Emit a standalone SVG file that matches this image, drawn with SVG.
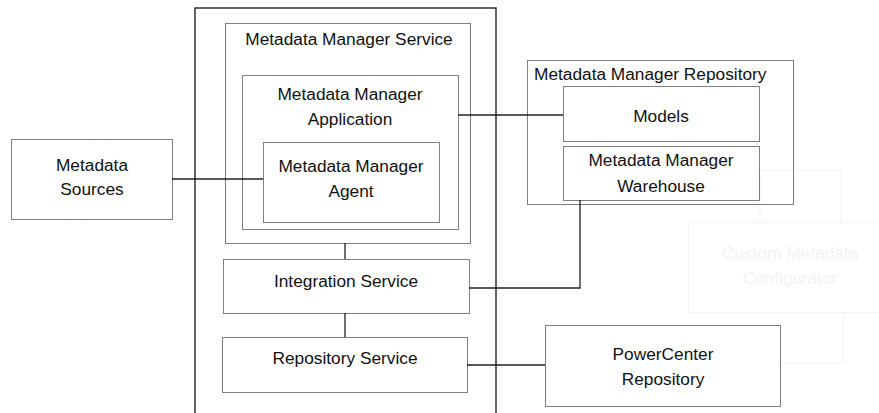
<svg xmlns="http://www.w3.org/2000/svg" width="879" height="413" viewBox="0 0 879 413">
<style>
.box{fill:none;stroke:#000;stroke-width:1;stroke-dasharray:1 1}
.ghost{fill:none;stroke:#f3f3f3;stroke-width:1}
.frame{fill:none;stroke:#111;stroke-width:1.3}
.line{fill:none;stroke:#222;stroke-width:1.3}
text{font-family:"Liberation Sans",Arial,sans-serif;font-size:17.3px;fill:#111;text-anchor:middle}
.gt{fill:#f3f3f3}
.lt{text-anchor:start}
</style>
<rect width="879" height="413" fill="#fff"/>
<g id="ghost-configurator">
<polyline class="ghost" points="760,222 760,170 841,170 841,222"/>
<rect class="ghost" x="688.5" y="222.5" width="200" height="90"/>
<polyline class="ghost" points="778,363 843,363 843,313"/>
<text class="gt" x="790" y="259">Custom Metadata</text>
<text class="gt" x="790" y="284">Configurator</text>
</g>
<g id="connectors">
<line class="line" x1="172" y1="179" x2="263" y2="179"/>
<line class="line" x1="458" y1="115" x2="563" y2="115"/>
<polyline class="line" points="469,288 580,288 580,200"/>
<line class="line" x1="345" y1="243" x2="345" y2="259"/>
<line class="line" x1="345" y1="313" x2="345" y2="337"/>
<line class="line" x1="467" y1="365" x2="545" y2="365"/>
</g>
<g id="domain-frame">
<rect class="frame" x="195" y="8" width="301" height="420"/>
</g>
<g id="mm-service">
<rect class="box" x="225.5" y="23.5" width="245" height="220"/>
<text x="349" y="45">Metadata Manager Service</text>
</g>
<g id="mm-application">
<rect class="box" x="242.5" y="75.5" width="216" height="154"/>
<text x="350" y="100">Metadata Manager</text>
<text x="350" y="125">Application</text>
</g>
<g id="mm-agent">
<rect class="box" x="263.5" y="142.5" width="176" height="80"/>
<text x="351" y="172">Metadata Manager</text>
<text x="351" y="197">Agent</text>
</g>
<g id="metadata-sources">
<rect class="box" x="11.5" y="139.5" width="161" height="80"/>
<text x="92" y="171">Metadata</text>
<text x="92" y="195">Sources</text>
</g>
<g id="integration-service">
<rect class="box" x="223.5" y="259.5" width="246" height="54"/>
<text x="346" y="287">Integration Service</text>
</g>
<g id="repository-service">
<rect class="box" x="222.5" y="337.5" width="245" height="55"/>
<text x="345" y="364">Repository Service</text>
</g>
<g id="mm-repository">
<rect class="box" x="527.5" y="60.5" width="266" height="144"/>
<text class="lt" x="534" y="80">Metadata Manager Repository</text>
</g>
<g id="models">
<rect class="box" x="563.5" y="86.5" width="196" height="55"/>
<text x="661" y="122">Models</text>
</g>
<g id="mm-warehouse">
<rect class="box" x="563.5" y="146.5" width="196" height="54"/>
<text x="661" y="166">Metadata Manager</text>
<text x="661" y="192">Warehouse</text>
</g>
<g id="powercenter-repository">
<rect class="box" x="545.5" y="325.5" width="235" height="81"/>
<text x="663" y="360">PowerCenter</text>
<text x="663" y="385">Repository</text>
</g>
</svg>
